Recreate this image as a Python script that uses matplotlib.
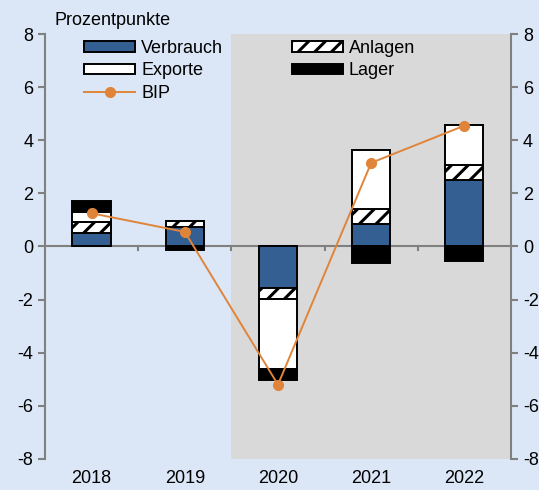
import numpy as np
import matplotlib
matplotlib.use("Agg")
from matplotlib import pyplot as plt

plt.rcParams['font.family'] = ['Liberation Sans', 'DejaVu Sans']
plt.rcParams['hatch.linewidth'] = 2.2
plt.rcParams['axes.unicode_minus'] = False

jahre = ["2018", "2019", "2020", "2021", "2022"]
verbrauch = [0.50, 0.72, -1.57, 0.85, 2.52]
anlagen = [0.42, 0.25, -0.41, 0.57, 0.53]
exporte = [0.38, 0.00, -2.62, 2.23, 1.54]
lager = [0.42, -0.12, -0.41, -0.63, -0.53]
bip = [1.25, 0.55, -5.2, 3.15, 4.55]

bg = "#DBE7F7"
blau = "#335F93"
orange = "#E0843A"
grau = "#808080"
fs = 13

fig = plt.figure(figsize=(5.39, 4.9), dpi=100, facecolor=bg)
ax = fig.add_axes([0.0835, 0.0633, 0.8645, 0.8673])
ax.set_facecolor(bg)

x = np.arange(len(jahre))
w = 0.41

# Positive und negative Beiträge getrennt stapeln
pos = np.zeros(len(jahre))
neg = np.zeros(len(jahre))
handles = {}
for name, werte, farbe, hatch in [("Verbrauch", verbrauch, blau, None),
                                  ("Anlagen", anlagen, "white", "//"),
                                  ("Exporte", exporte, "white", None),
                                  ("Lager", lager, "black", None)]:
    werte = np.array(werte)
    unten = np.where(werte >= 0, pos, neg)
    b = ax.bar(x, werte, w, bottom=unten, color=farbe, edgecolor="black",
               linewidth=1.4, hatch=hatch, label=name, zorder=3)
    handles[name] = b
    pos = pos + np.clip(werte, 0, None)
    neg = neg + np.clip(werte, None, 0)

l, = ax.plot(x, bip, color=orange, marker="o", markersize=7, linewidth=1.4,
             label="BIP", zorder=4)
handles["BIP"] = l

ax.axvspan(1.5, 4.5, color="#D9D9D9", zorder=0, linewidth=0)
ax.axhline(0, color=grau, linewidth=1.5, zorder=2)

ax.set_xlim(-0.5, 4.5)
ax.set_ylim(-8, 8)
ax.set_yticks(range(-8, 9, 2))
ax.tick_params(axis="y", colors=grau, labelcolor="black", labelsize=fs,
               length=5, width=1.5, direction="out", right=True, labelright=True)
ax.set_xticks([])
for s in ["top", "bottom"]:
    ax.spines[s].set_visible(False)
for s in ["left", "right"]:
    ax.spines[s].set_color(grau)
    ax.spines[s].set_linewidth(1.5)

# Trennstriche an der Nulllinie und Jahreszahlen
for xi in np.arange(0.5, 4.5, 1):
    ax.plot([xi, xi], [0, -0.15], color=grau, linewidth=1.5, zorder=2)
for xi, j in zip(x, jahre):
    ax.text(xi, -8.4, j, ha="center", va="top", fontsize=fs)

ax.text(-0.4, 8.2, "Prozentpunkte", ha="left", va="bottom", fontsize=fs)

reihenfolge = ["Verbrauch", "Exporte", "BIP", "Anlagen", "Lager"]
ax.legend([handles[n] for n in reihenfolge], reihenfolge, ncol=2,
          loc="upper left", bbox_to_anchor=(0.075, 0.997), frameon=False,
          fontsize=fs, handlelength=2.8, handleheight=0.5,
          columnspacing=3.8, labelspacing=0.3, handletextpad=0.35,
          borderaxespad=0.0, borderpad=0.25)

fig.savefig("out.png", dpi=100, facecolor=bg)
